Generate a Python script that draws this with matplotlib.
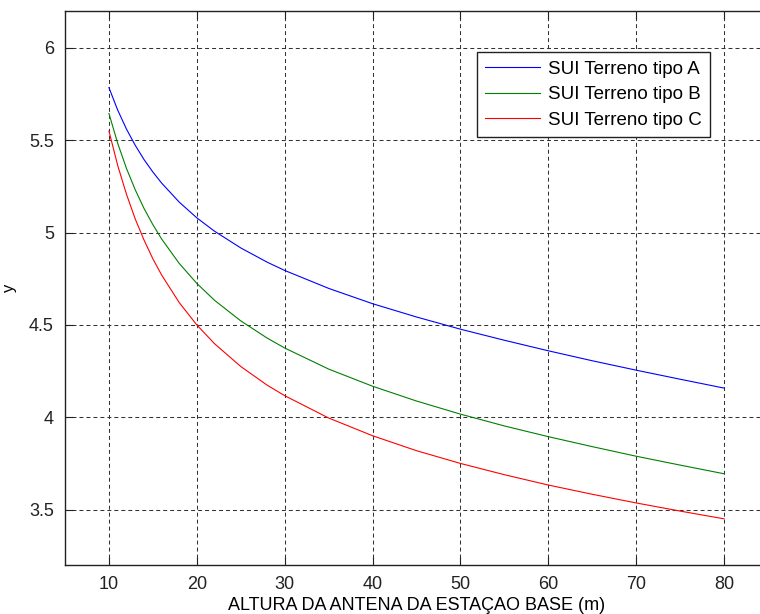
import matplotlib
matplotlib.use("Agg")
import matplotlib.pyplot as plt

# altura da antena (m) e expoente de perda
altura = [10, 11, 12, 13, 14, 15, 16, 18, 20, 22, 25, 28, 30, 35, 40, 45, 50, 55, 60, 65, 70, 75, 80]
tipo_a = [5.785, 5.663, 5.560, 5.472, 5.395, 5.328, 5.268, 5.165, 5.080, 5.008, 4.917, 4.840, 4.795,
          4.698, 4.615, 4.543, 4.477, 4.417, 4.360, 4.306, 4.255, 4.206, 4.158]
tipo_b = [5.645, 5.483, 5.347, 5.231, 5.130, 5.043, 4.965, 4.833, 4.725, 4.634, 4.522, 4.429, 4.375,
          4.261, 4.168, 4.088, 4.017, 3.953, 3.895, 3.841, 3.789, 3.741, 3.694]
tipo_c = [5.550, 5.363, 5.207, 5.073, 4.959, 4.858, 4.770, 4.621, 4.500, 4.399, 4.275, 4.174, 4.117,
          3.996, 3.900, 3.819, 3.750, 3.689, 3.633, 3.583, 3.536, 3.492, 3.450]
rotulos = ["SUI Terreno tipo A", "SUI Terreno tipo B", "SUI Terreno tipo C"]
cores = ["#0000ff", "#008000", "#ff0000"]

plt.rcParams["font.family"] = ["Liberation Sans", "DejaVu Sans"]
plt.rcParams["font.size"] = 13

fig = plt.figure(figsize=(7.6, 6.14), dpi=100)
ax = fig.add_axes([65 / 760, 49 / 614, 703 / 760, 554 / 614])

for ys, lab, c in zip([tipo_a, tipo_b, tipo_c], rotulos, cores):
    ax.plot(altura, ys, color=c, lw=0.8, label=lab)

ax.set_xlim(5, 85)
ax.set_ylim(3.2, 6.2)
ax.set_xticks(range(10, 81, 10))
ax.set_yticks([3.5, 4, 4.5, 5, 5.5, 6])
ax.set_yticklabels(["3.5", "4", "4.5", "5", "5.5", "6"])
ax.tick_params(direction="in", length=6, width=0.8, top=True, right=False, colors="#222222",
               labelcolor="#222222", pad=8)
ax.grid(True, color="#333333", lw=0.75, linestyle=(0, (3.8, 2.9)))
for s in ax.spines.values():
    s.set_linewidth(1.0)
    s.set_color("#222222")
ax.spines["right"].set_visible(False)

ax.set_xlabel("ALTURA DA ANTENA DA ESTAÇAO BASE (m)", labelpad=3)
ax.set_ylabel("y", fontsize=12)
ax.yaxis.set_label_coords(-0.068, 0.5)

leg = ax.legend(loc="upper left", bbox_to_anchor=(0.586, 0.926), fancybox=False, framealpha=1,
                edgecolor="#222222", borderaxespad=0, handlelength=2.9, handletextpad=0.45,
                labelspacing=0.45, borderpad=0.45, fontsize=13.5)
leg.get_frame().set_linewidth(1.0)

fig.savefig("out.png", dpi=100)
